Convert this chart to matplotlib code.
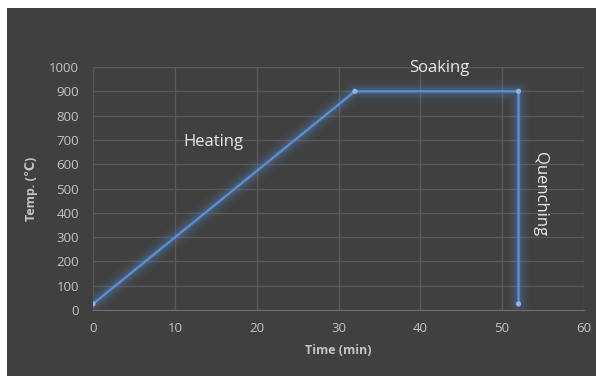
import matplotlib
matplotlib.use("Agg")
import matplotlib.pyplot as plt

# heat treatment profile
time_min = [0, 32, 52, 52]
temp_c = [25, 900, 900, 25]

x_ticks = [0, 10, 20, 30, 40, 50, 60]
y_ticks = [0, 100, 200, 300, 400, 500, 600, 700, 800, 900, 1000]

# stage labels: text, x, y, rotation
stages = [("Heating", 14.7, 690, 0), ("Soaking", 42.3, 995, 0), ("Quenching", 54.6, 477, -90)]

bg = "#404040"
grid_c = "#595959"
tick_c = "#c4c4c4"
line_c = "#5b8fd6"

plt.rcParams["font.family"] = ["Open Sans", "DejaVu Sans"]

fig = plt.figure(figsize=(5.96, 3.76), dpi=100, facecolor="white")
# dark chart panel
fig.patches.append(plt.Rectangle((7 / 596, 0), 1, 1 - 8 / 376, transform=fig.transFigure,
                                 facecolor=bg, edgecolor="none", zorder=-10))
ax = fig.add_axes([93 / 596, 1 - 310 / 376, (584 - 93) / 596, (310 - 67) / 376])
ax.set_facecolor(bg)

# glow
for w, a in [(16, 0.05), (11, 0.07), (7.5, 0.1), (4.5, 0.15)]:
    ax.plot(time_min, temp_c, color=line_c, lw=w, alpha=a, solid_capstyle="round", zorder=2)
ax.plot(time_min, temp_c, color=line_c, lw=1.6, zorder=3)
ax.scatter(time_min, temp_c, s=14, color="#8fb4e8", zorder=4, edgecolors="none")

ax.set_xlim(0, 60)
ax.set_ylim(0, 1000)
ax.set_xticks(x_ticks)
ax.set_yticks(y_ticks)
ax.grid(True, color=grid_c, lw=1)
ax.set_axisbelow(True)
for s in ["top", "right"]:
    ax.spines[s].set_visible(False)
ax.spines["left"].set_color(grid_c)
ax.spines["bottom"].set_color("#6e6e6e")
ax.tick_params(length=0, colors=tick_c, labelsize=9.5)
ax.tick_params(axis="y", pad=10)
ax.tick_params(axis="x", pad=9)

ax.set_xlabel("Time (min)", color=tick_c, fontsize=9, fontweight="bold", labelpad=6)
ax.set_ylabel("Temp. (℃)", color=tick_c, fontsize=9, fontweight="bold", labelpad=8)

for txt, x, y, r in stages:
    ax.text(x, y, txt, color="#e8e8e8", fontsize=12, fontweight="medium", rotation=r,
            ha="center", va="center", zorder=5)

fig.savefig("out.png", dpi=100, facecolor="white")
